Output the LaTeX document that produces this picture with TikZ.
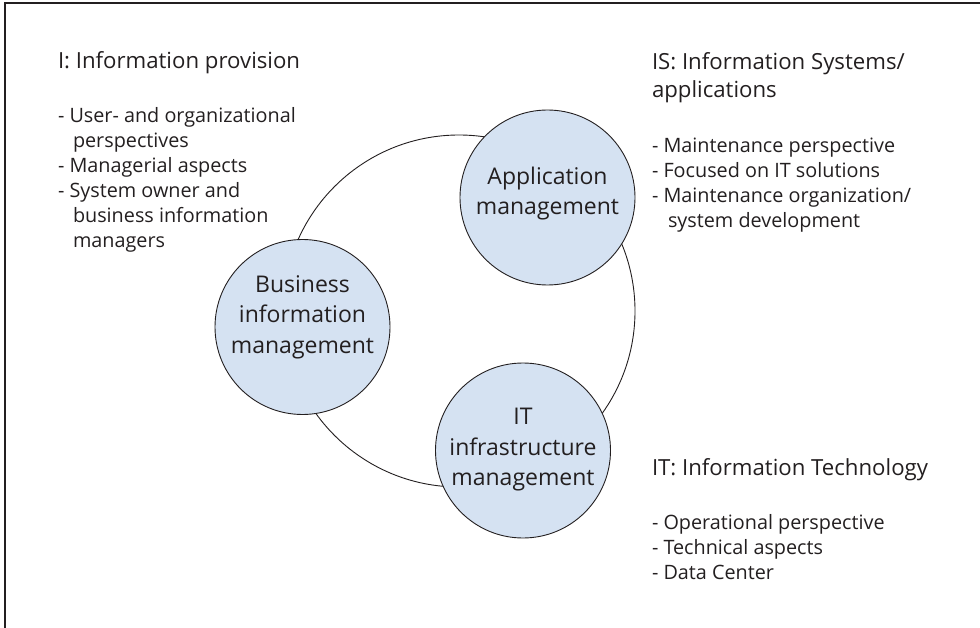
\documentclass[tikz,border=0pt]{standalone}
\usepackage{fontspec}
\setmainfont{Open Sans}
\definecolor{ink}{HTML}{231F20}
\definecolor{bubble}{HTML}{D5E2F2}
\begin{document}
\begin{tikzpicture}[x=1pt,y=-1pt,
  every node/.style={inner sep=0pt, outer sep=0pt, text=ink},
  ttl/.style={anchor=base west, font=\fontsize{22.2}{26}\selectfont},
  itm/.style={anchor=base west, font=\fontsize{19.8}{25}\selectfont},
  ctx/.style={anchor=base, font=\fontsize{23}{30}\selectfont},
  bubblenode/.style={circle, draw=ink, line width=0.9pt, fill=bubble, minimum size=175pt},
  ring/.style={circle, draw=ink, line width=0.9pt, minimum size=352pt}]
\useasboundingbox (0,0) rectangle (980,628);
% frame
\coordinate (ftr) at (981,3);
\coordinate (fc) at (5,3);
\coordinate (fbl) at (5,629);
\draw[ink, line width=1.1pt] (ftr) -- (fc) -- (fbl);
% ring and bubbles
\node[ring] (ring) at (459,311) {};
\node[bubblenode] (bim) at (302.5,327) {};
\node[bubblenode] (am) at (547.5,197.5) {};
\node[bubblenode] (itm) at (523,450.5) {};
% bubble texts
\node[ctx] (bim1) at (302.5,293) {Business};
\node[ctx] (bim2) at (302.5,323) {information};
\node[ctx] (bim3) at (302.5,353) {management};
\node[ctx] (am1) at (547.5,185) {Application};
\node[ctx] (am2) at (547.5,215) {management};
\node[ctx] (it1) at (523,424) {IT};
\node[ctx] (it2) at (523,455) {infrastructure};
\node[ctx] (it3) at (523,485) {management};
% left block
\node[ttl] (lt) at (58,69) {I: Information provision};
\node[itm] (l1) at (58,123) {- User- and organizational};
\node[itm] (l2) at (73,148) {perspectives};
\node[itm] (l3) at (58,173) {- Managerial aspects};
\node[itm] (l4) at (58,198) {- System owner and};
\node[itm] (l5) at (73,223) {business information};
\node[itm] (l6) at (73,248) {managers};
% right top block
\node[ttl] (rt1) at (652,70) {IS: Information Systems/};
\node[ttl] (rt2) at (652,98) {applications};
\node[itm] (r1) at (652,153) {- Maintenance perspective};
\node[itm] (r2) at (652,178) {- Focused on IT solutions};
\node[itm] (r3) at (652,203) {- Maintenance organization/};
\node[itm] (r4) at (668,228) {system development};
% right bottom block
\node[ttl] (bt) at (652,475) {IT: Information Technology};
\node[itm] (b1) at (652,529) {- Operational perspective};
\node[itm] (b2) at (652,554) {- Technical aspects};
\node[itm] (b3) at (652,579) {- Data Center};
\end{tikzpicture}
\end{document}
